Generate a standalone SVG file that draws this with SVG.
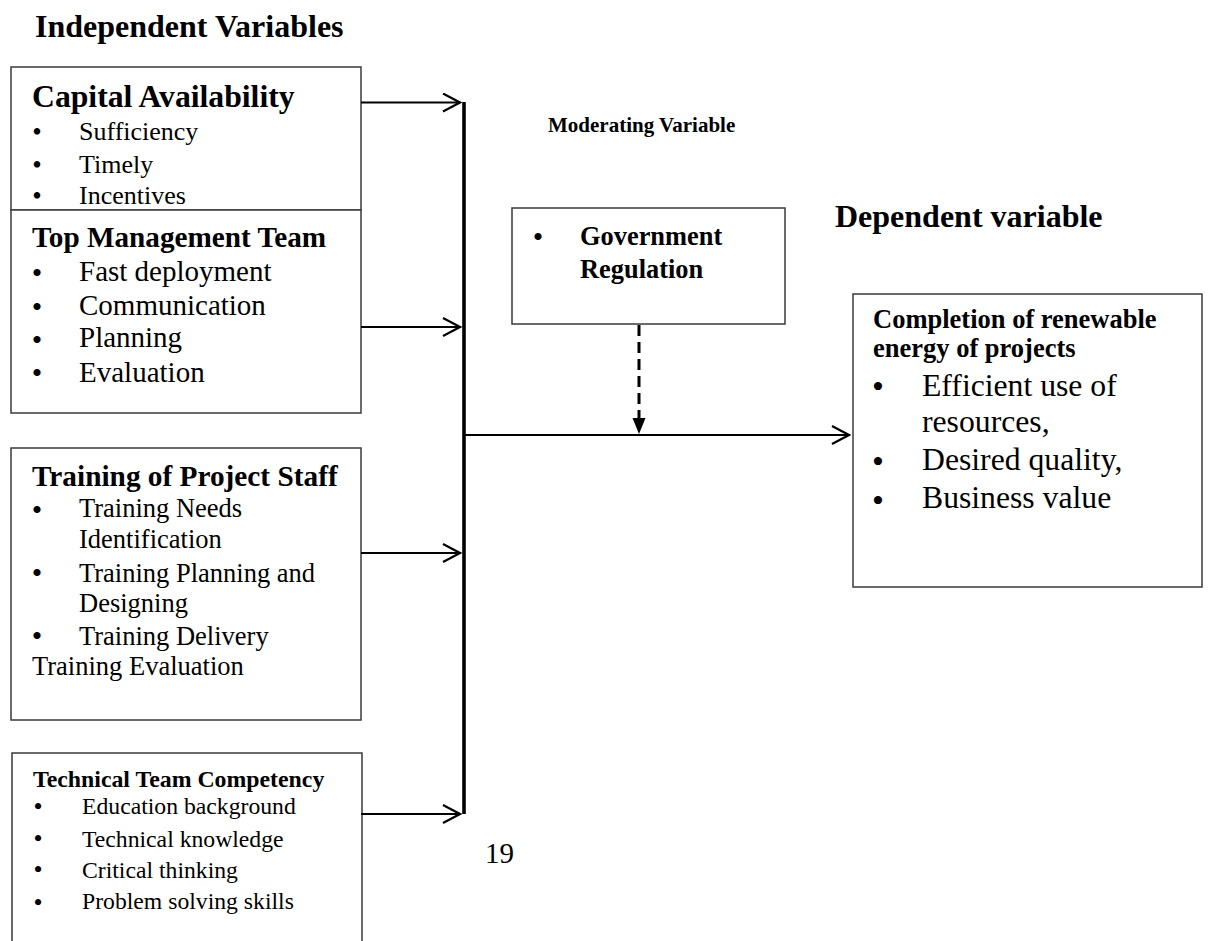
<svg xmlns="http://www.w3.org/2000/svg" width="1209" height="941" viewBox="0 0 1209 941">
<style>
text{font-family:"Liberation Serif","Times New Roman",serif;fill:#000}
.b{font-weight:bold}
.box{fill:#fff;stroke:#3a3a3a;stroke-width:1.5}
.ln{stroke:#000;stroke-width:2.2;fill:none}
.bul{font-size:30px;text-anchor:middle}
</style>
<defs>
<marker id="open" viewBox="0 0 20 20" refX="18" refY="10" markerWidth="20" markerHeight="20" markerUnits="userSpaceOnUse" orient="auto">
<path d="M1,1 L18,10 L1,19" fill="none" stroke="#000" stroke-width="2.2"/>
</marker>
</defs>
<rect width="1209" height="941" fill="#fff"/>

<text class="b" x="35" y="37" font-size="32">Independent Variables</text>
<text class="b" x="548" y="132" font-size="21">Moderating Variable</text>
<text class="b" x="835" y="227" font-size="32">Dependent variable</text>
<text x="485" y="863" font-size="29">19</text>

<g id="capital">
<rect class="box" x="11" y="67" width="350" height="143"/>
<text class="b" x="32" y="107" font-size="31.7">Capital Availability</text>
<text class="bul" x="37" y="141" style="font-size:27px">•</text><text x="79" y="140" font-size="26">Sufficiency</text>
<text class="bul" x="37" y="174" style="font-size:27px">•</text><text x="79" y="173" font-size="26">Timely</text>
<text class="bul" x="37" y="205" style="font-size:27px">•</text><text x="79" y="204" font-size="26">Incentives</text>
</g>

<g id="topmgmt">
<rect class="box" x="11" y="210" width="350" height="203"/>
<text class="b" x="32" y="247" font-size="29.2">Top Management Team</text>
<text class="bul" x="37" y="283">•</text><text x="79" y="281" font-size="29">Fast deployment</text>
<text class="bul" x="37" y="317">•</text><text x="79" y="315" font-size="29">Communication</text>
<text class="bul" x="37" y="350">•</text><text x="79" y="347" font-size="29">Planning</text>
<text class="bul" x="37" y="383">•</text><text x="79" y="382" font-size="29">Evaluation</text>
</g>

<g id="training">
<rect class="box" x="11" y="448" width="350" height="272"/>
<text class="b" x="32" y="486" font-size="29.3">Training of Project Staff</text>
<text class="bul" x="37" y="520">•</text><text x="79" y="517" font-size="26.5">Training Needs</text>
<text x="79" y="548" font-size="26.5">Identification</text>
<text class="bul" x="37" y="583">•</text><text x="79" y="582" font-size="26.5">Training Planning and</text>
<text x="79" y="612" font-size="26.5">Designing</text>
<text class="bul" x="37" y="646">•</text><text x="79" y="645" font-size="26.5">Training Delivery</text>
<text x="32" y="675" font-size="26.5">Training Evaluation</text>
</g>

<g id="technical">
<path class="box" d="M12,945 V753 H362 V945"/>
<text class="b" x="33" y="787" font-size="23.8">Technical Team Competency</text>
<text class="bul" x="38" y="815" style="font-size:26px">•</text><text x="82" y="814" font-size="23.7">Education background</text>
<text class="bul" x="38" y="847" style="font-size:26px">•</text><text x="82" y="847" font-size="23.7">Technical knowledge</text>
<text class="bul" x="38" y="878" style="font-size:26px">•</text><text x="82" y="878" font-size="23.7">Critical thinking</text>
<text class="bul" x="38" y="911" style="font-size:26px">•</text><text x="82" y="909" font-size="23.7">Problem solving skills</text>
</g>

<g id="government">
<rect class="box" x="512" y="208" width="273" height="116"/>
<text class="bul" x="538" y="247">•</text>
<text class="b" x="580" y="245" font-size="26.4">Government</text>
<text class="b" x="580" y="278" font-size="26.4">Regulation</text>
</g>

<g id="dependent">
<rect class="box" x="853" y="294" width="349" height="293"/>
<text class="b" x="873" y="328" font-size="26.5">Completion of renewable</text>
<text class="b" x="873" y="357" font-size="26.5">energy of projects</text>
<text class="bul" x="878" y="398" style="font-size:34px">•</text><text x="922" y="396" font-size="31.7">Efficient use of</text>
<text x="922" y="432" font-size="31.7">resources,</text>
<text class="bul" x="878" y="473" style="font-size:34px">•</text><text x="922" y="470" font-size="31.7">Desired quality,</text>
<text class="bul" x="878" y="512" style="font-size:34px">•</text><text x="922" y="508" font-size="31.7">Business value</text>
</g>

<g id="connectors">
<line x1="464" y1="102" x2="464" y2="814" stroke="#000" stroke-width="3.6"/>
<line class="ln" x1="361" y1="102.5" x2="460" y2="102.5" marker-end="url(#open)"/>
<line class="ln" x1="361" y1="327" x2="460" y2="327" marker-end="url(#open)"/>
<line class="ln" x1="361" y1="553" x2="460" y2="553" marker-end="url(#open)"/>
<line class="ln" x1="361" y1="814" x2="460" y2="814" marker-end="url(#open)"/>
<line class="ln" x1="464" y1="435" x2="849" y2="435" marker-end="url(#open)"/>
<line x1="639" y1="325" x2="639" y2="418" stroke="#000" stroke-width="3" stroke-dasharray="11 6"/>
<path d="M632.5,418 L645.5,418 L639,434 Z" fill="#000"/>
</g>
</svg>
